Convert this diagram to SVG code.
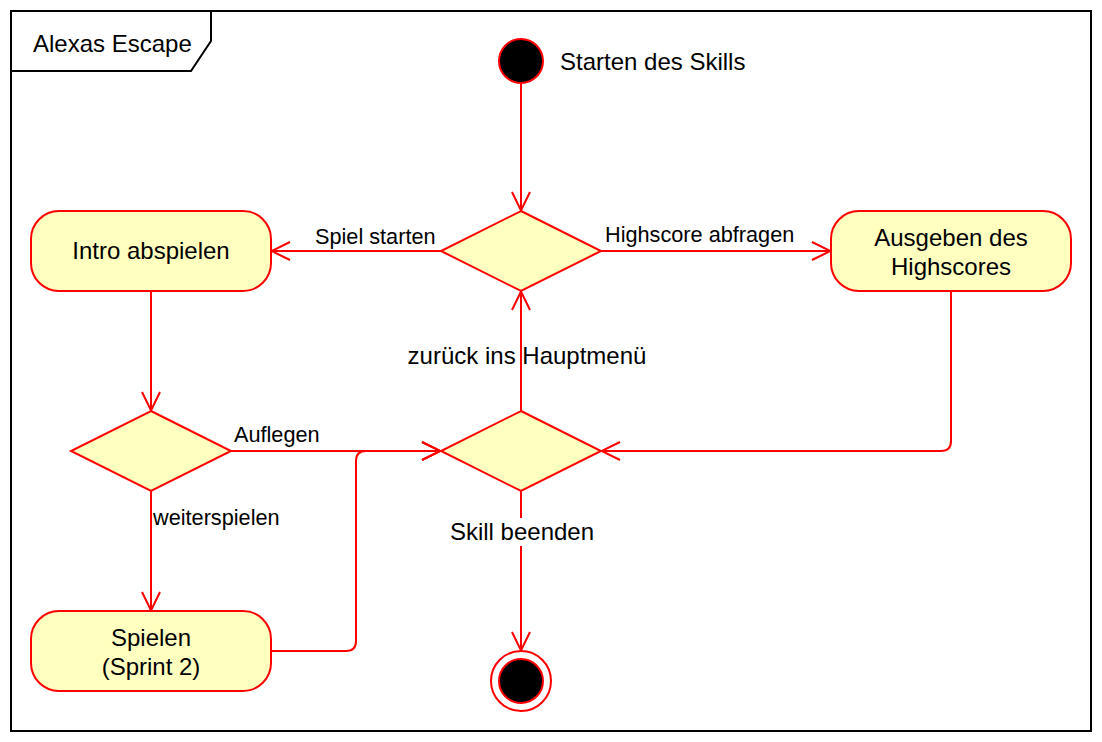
<svg xmlns="http://www.w3.org/2000/svg" width="1102" height="742" viewBox="0 0 1102 742">
<defs>
<style>
.n{fill:#FFFFC0;stroke:#FF0000;stroke-width:2}
.e{fill:none;stroke:#FF0000;stroke-width:2;marker-end:url(#arr)}
.t{font-family:"Liberation Sans",Arial,sans-serif;font-size:24px;fill:#000}
.l{font-family:"Liberation Sans",Arial,sans-serif;font-size:21.7px;fill:#000}
</style>
<marker id="arr" viewBox="0 0 20 20" refX="20" refY="10" markerWidth="20" markerHeight="20" markerUnits="userSpaceOnUse" orient="auto">
<path d="M1,1 L19.5,10 L1,19" fill="none" stroke="#FF0000" stroke-width="2"/>
</marker>
</defs>
<rect width="1102" height="742" fill="#fff"/>
<g id="frame">
<rect x="11" y="11" width="1080" height="720" fill="none" stroke="#000" stroke-width="2"/>
<path d="M11,11 H211 V41 L191,71 H11 Z" fill="#fff" stroke="#000" stroke-width="2"/>
<text class="t" x="33" y="52">Alexas Escape</text>
</g>
<g id="edges">
<path class="e" d="M521,83 V211"/>
<path class="e" d="M441,251 H271"/>
<path class="e" d="M601,251 H831"/>
<path class="e" d="M151,291 V411"/>
<path class="e" d="M231,451 H441"/>
<path class="e" d="M151,491 V611"/>
<path class="e" d="M271,651 H346 Q356,651 356,641 V461 Q356,451 366,451 H441"/>
<path class="e" d="M951,291 V441 Q951,451 941,451 H601"/>
<path class="e" d="M521,411 V291"/>
<path class="e" d="M521,491 V651"/>
<text class="l" x="315" y="244">Spiel starten</text>
<text class="l" x="605" y="242">Highscore abfragen</text>
<text class="l" x="234" y="442">Auflegen</text>
<text class="l" x="153" y="525">weiterspielen</text>
<text class="t" x="527" y="364" text-anchor="middle">zurück ins Hauptmenü</text>
<rect x="448" y="518" width="148" height="28" fill="#fff"/>
<text class="t" x="522" y="540" text-anchor="middle">Skill beenden</text>
</g>
<g id="start">
<circle cx="521" cy="61" r="22" fill="#000" stroke="#FF0000" stroke-width="2"/>
<text class="t" x="560" y="70">Starten des Skills</text>
</g>
<g id="decision1"><path class="n" d="M521,211 L601,251 L521,291 L441,251 Z"/></g>
<g id="decision2"><path class="n" d="M521,411 L601,451 L521,491 L441,451 Z"/></g>
<g id="decision3"><path class="n" d="M151,411 L231,451 L151,491 L71,451 Z"/></g>
<g id="intro">
<rect class="n" x="31" y="211" width="240" height="80" rx="28"/>
<text class="t" x="151" y="259" text-anchor="middle">Intro abspielen</text>
</g>
<g id="highscore">
<rect class="n" x="831" y="211" width="240" height="80" rx="28"/>
<text class="t" x="951" y="246" text-anchor="middle">Ausgeben des</text>
<text class="t" x="951" y="275" text-anchor="middle">Highscores</text>
</g>
<g id="spielen">
<rect class="n" x="31" y="611" width="240" height="80" rx="28"/>
<text class="t" x="151" y="646" text-anchor="middle">Spielen</text>
<text class="t" x="151" y="675" text-anchor="middle">(Sprint 2)</text>
</g>
<g id="end">
<circle cx="521" cy="681" r="30" fill="#fff" stroke="#FF0000" stroke-width="2"/>
<circle cx="521" cy="681" r="22" fill="#000" stroke="#FF0000" stroke-width="2"/>
</g>
</svg>
